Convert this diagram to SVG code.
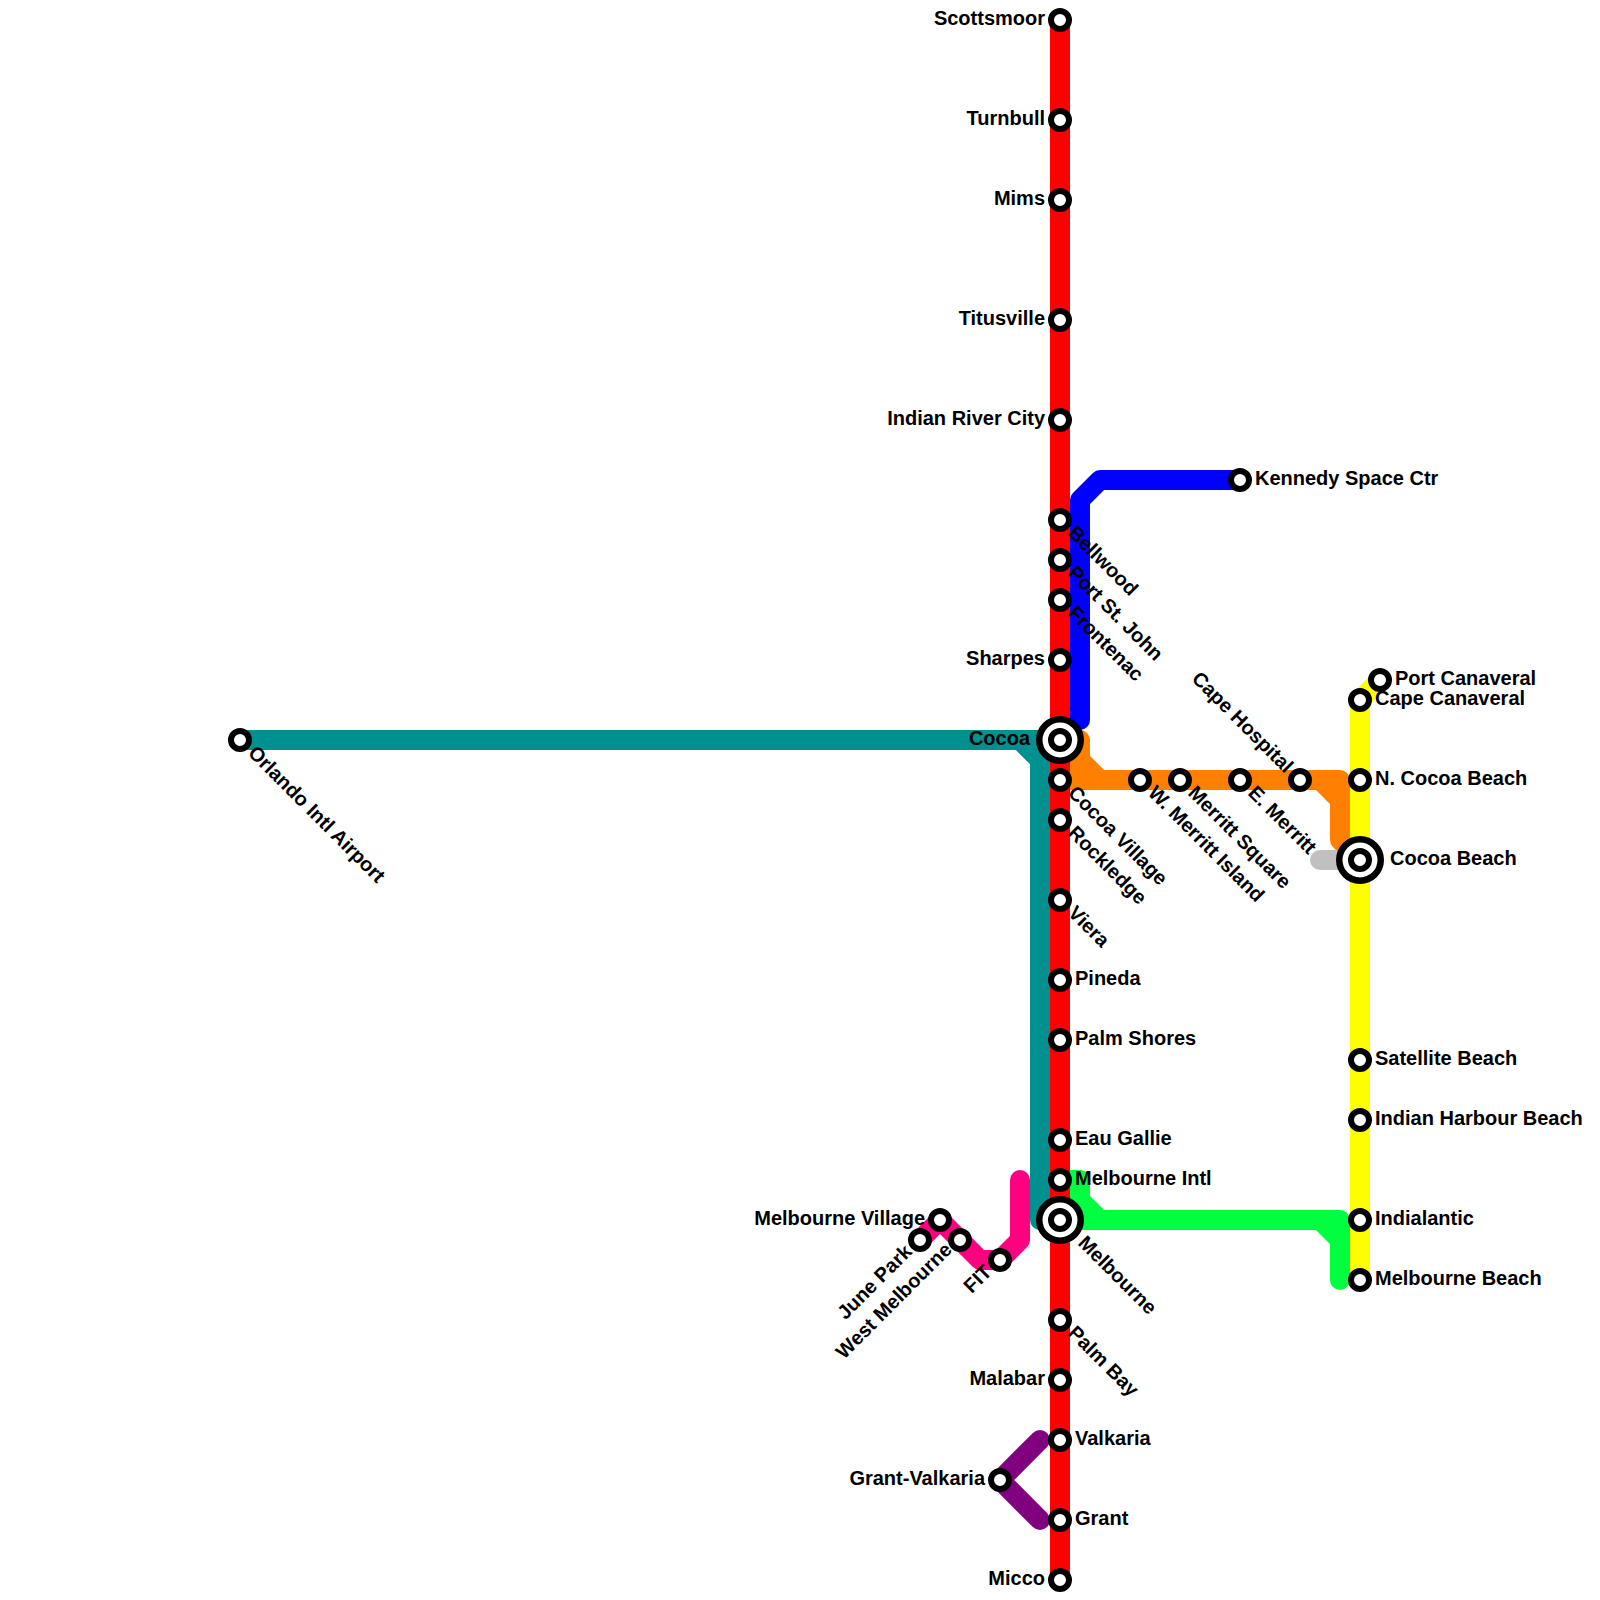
<svg xmlns="http://www.w3.org/2000/svg" width="1600" height="1600" viewBox="0 0 1600 1600">
<style>
.l{fill:none;stroke-width:20;stroke-linecap:round;stroke-linejoin:round}
.s{fill:#fff;stroke:#000;stroke-width:6}
.o{fill:#fff;stroke:#000;stroke-width:6.5}
text{font-family:"Liberation Sans",Arial,sans-serif;font-weight:bold;font-size:20px;fill:#000}
.e{text-anchor:end}
</style>
<rect width="1600" height="1600" fill="#fff"/>
<g id="connectors">
<path class="l" stroke="#009090" d="M240 740H1020L1040 760V1220H1060M1020 740H1060"/>
<path class="l" stroke="#0000ff" d="M1240 480H1100L1080 500V720"/>
<path class="l" stroke="#ff8000" d="M1060 740H1080V760L1100 780H1320L1340 800V840L1360 860M1060 780H1340V840M1060 760H1080"/>
<path class="l" stroke="#c0c0c0" d="M1320 860H1360"/>
<path class="l" stroke="#00ff40" d="M1060 1180H1080V1200L1100 1220H1320L1340 1240V1280M1060 1220H1340V1280M1060 1200H1080"/>
<path class="l" stroke="#ff0080" d="M920 1240L940 1220L980 1260H1000L1020 1240V1180"/>
<path class="l" stroke="#800080" d="M1040 1440L1000 1480L1040 1520"/>
<path class="l" stroke="#ffff00" d="M1380 680L1360 700V1280"/>
<path class="l" stroke="#ff0000" d="M1060 20V1580"/>
</g>
<g id="st-scottsmoor"><circle class="s" cx="1060" cy="20" r="9"/><text class="e" x="1045" y="25">Scottsmoor</text></g>
<g id="st-turnbull"><circle class="s" cx="1060" cy="120" r="9"/><text class="e" x="1045" y="125">Turnbull</text></g>
<g id="st-mims"><circle class="s" cx="1060" cy="200" r="9"/><text class="e" x="1045" y="205">Mims</text></g>
<g id="st-titusville"><circle class="s" cx="1060" cy="320" r="9"/><text class="e" x="1045" y="325">Titusville</text></g>
<g id="st-indian-river-city"><circle class="s" cx="1060" cy="420" r="9"/><text class="e" x="1045" y="425">Indian River City</text></g>
<g id="st-bellwood"><circle class="s" cx="1060" cy="520" r="9"/><text transform="translate(1067 534) rotate(45)">Bellwood</text></g>
<g id="st-port-st-john"><circle class="s" cx="1060" cy="560" r="9"/><text transform="translate(1067 574) rotate(45)">Port St. John</text></g>
<g id="st-frontenac"><circle class="s" cx="1060" cy="600" r="9"/><text transform="translate(1067 614) rotate(45)">Frontenac</text></g>
<g id="st-sharpes"><circle class="s" cx="1060" cy="660" r="9"/><text class="e" x="1045" y="665">Sharpes</text></g>
<g id="st-cocoa"><circle class="o" cx="1060" cy="740" r="20.75"/><circle class="s" cx="1060" cy="740" r="9"/><text class="e" x="1030" y="745">Cocoa</text></g>
<g id="st-cocoa-village"><circle class="s" cx="1060" cy="780" r="9"/><text transform="translate(1067 794) rotate(45)">Cocoa Village</text></g>
<g id="st-rockledge"><circle class="s" cx="1060" cy="820" r="9"/><text transform="translate(1067 834) rotate(45)">Rockledge</text></g>
<g id="st-viera"><circle class="s" cx="1060" cy="900" r="9"/><text transform="translate(1067 914) rotate(45)">Viera</text></g>
<g id="st-pineda"><circle class="s" cx="1060" cy="980" r="9"/><text x="1075" y="985">Pineda</text></g>
<g id="st-palm-shores"><circle class="s" cx="1060" cy="1040" r="9"/><text x="1075" y="1045">Palm Shores</text></g>
<g id="st-eau-gallie"><circle class="s" cx="1060" cy="1140" r="9"/><text x="1075" y="1145">Eau Gallie</text></g>
<g id="st-melbourne-intl"><circle class="s" cx="1060" cy="1180" r="9"/><text x="1075" y="1185">Melbourne Intl</text></g>
<g id="st-melbourne"><circle class="o" cx="1060" cy="1220" r="20.75"/><circle class="s" cx="1060" cy="1220" r="9"/><text transform="translate(1077 1244) rotate(45)">Melbourne</text></g>
<g id="st-palm-bay"><circle class="s" cx="1060" cy="1320" r="9"/><text transform="translate(1067 1334) rotate(45)">Palm Bay</text></g>
<g id="st-malabar"><circle class="s" cx="1060" cy="1380" r="9"/><text class="e" x="1045" y="1385">Malabar</text></g>
<g id="st-valkaria"><circle class="s" cx="1060" cy="1440" r="9"/><text x="1075" y="1445">Valkaria</text></g>
<g id="st-grant"><circle class="s" cx="1060" cy="1520" r="9"/><text x="1075" y="1525">Grant</text></g>
<g id="st-micco"><circle class="s" cx="1060" cy="1580" r="9"/><text class="e" x="1045" y="1585">Micco</text></g>
<g id="st-orlando"><circle class="s" cx="240" cy="740" r="9"/><text transform="translate(247 754) rotate(45)">Orlando Intl Airport</text></g>
<g id="st-kennedy"><circle class="s" cx="1240" cy="480" r="9"/><text x="1255" y="485">Kennedy Space Ctr</text></g>
<g id="st-w-merritt"><circle class="s" cx="1140" cy="780" r="9"/><text transform="translate(1147 794) rotate(45)">W. Merritt Island</text></g>
<g id="st-merritt-square"><circle class="s" cx="1180" cy="780" r="9"/><text transform="translate(1187 794) rotate(45)">Merritt Square</text></g>
<g id="st-e-merritt"><circle class="s" cx="1240" cy="780" r="9"/><text transform="translate(1247 794) rotate(45)">E. Merritt</text></g>
<g id="st-cape-hospital"><circle class="s" cx="1300" cy="780" r="9"/><text class="e" transform="translate(1285 774) rotate(45)">Cape Hospital</text></g>
<g id="st-port-canaveral"><circle class="s" cx="1380" cy="680" r="9"/><text x="1395" y="685">Port Canaveral</text></g>
<g id="st-cape-canaveral"><circle class="s" cx="1360" cy="700" r="9"/><text x="1375" y="705">Cape Canaveral</text></g>
<g id="st-n-cocoa-beach"><circle class="s" cx="1360" cy="780" r="9"/><text x="1375" y="785">N. Cocoa Beach</text></g>
<g id="st-cocoa-beach"><circle class="o" cx="1360" cy="860" r="20.75"/><circle class="s" cx="1360" cy="860" r="9"/><text x="1390" y="865">Cocoa Beach</text></g>
<g id="st-satellite-beach"><circle class="s" cx="1360" cy="1060" r="9"/><text x="1375" y="1065">Satellite Beach</text></g>
<g id="st-indian-harbour-beach"><circle class="s" cx="1360" cy="1120" r="9"/><text x="1375" y="1125">Indian Harbour Beach</text></g>
<g id="st-indialantic"><circle class="s" cx="1360" cy="1220" r="9"/><text x="1375" y="1225">Indialantic</text></g>
<g id="st-melbourne-beach"><circle class="s" cx="1360" cy="1280" r="9"/><text x="1375" y="1285">Melbourne Beach</text></g>
<g id="st-melbourne-village"><circle class="s" cx="940" cy="1220" r="9"/><text class="e" x="925" y="1225">Melbourne Village</text></g>
<g id="st-june-park"><circle class="s" cx="920" cy="1240" r="9"/><text class="e" transform="translate(913 1253) rotate(-45)">June Park</text></g>
<g id="st-west-melbourne"><circle class="s" cx="960" cy="1240" r="9"/><text class="e" transform="translate(953 1251) rotate(-45)">West Melbourne</text></g>
<g id="st-fit"><circle class="s" cx="1000" cy="1260" r="9"/><text class="e" transform="translate(993 1273) rotate(-45)">FIT</text></g>
<g id="st-grant-valkaria"><circle class="s" cx="1000" cy="1480" r="9"/><text class="e" x="985" y="1485">Grant-Valkaria</text></g>
</svg>
